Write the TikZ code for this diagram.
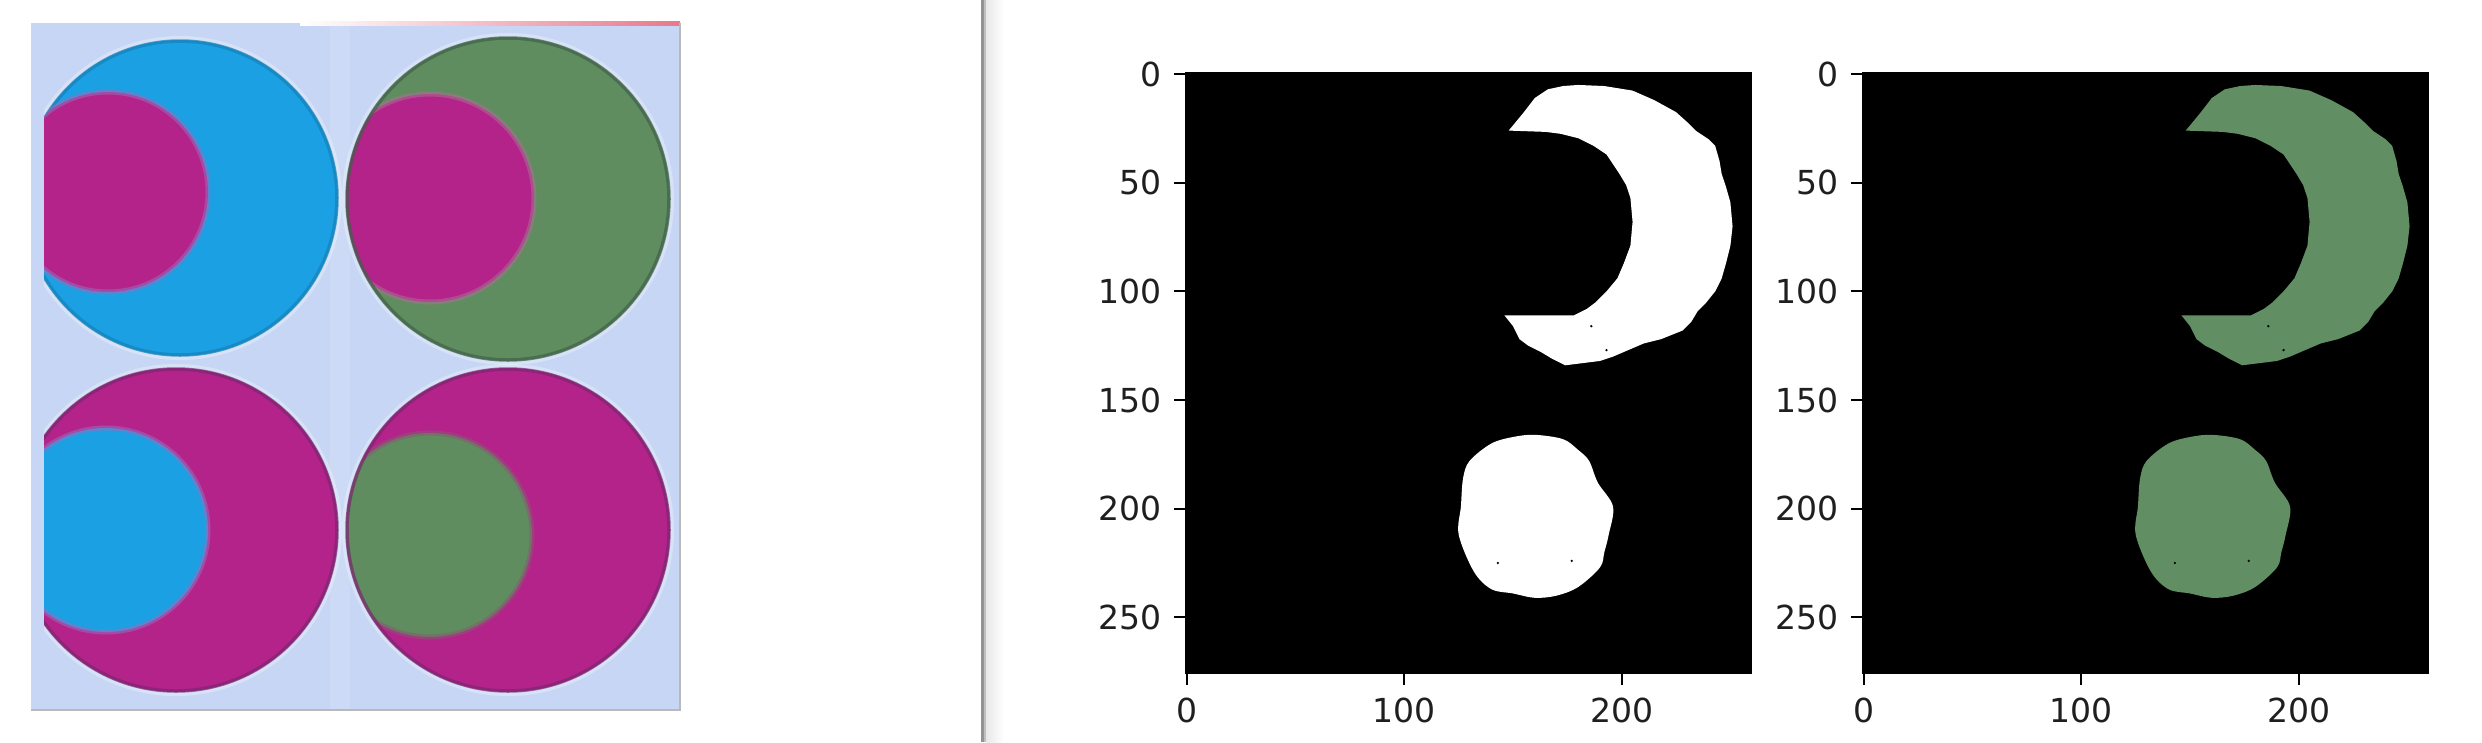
\documentclass[tikz,border=0pt]{standalone}
\usepackage{fontspec}
\setmainfont{DejaVu Sans}
\definecolor{photobg}{RGB}{198,214,244}
\definecolor{cblue}{RGB}{27,160,228}
\definecolor{cmag}{RGB}{180,35,137}
\definecolor{cgreen}{RGB}{96,141,96}
\definecolor{darkgreen}{RGB}{62,96,72}
\definecolor{darkmag}{RGB}{122,38,112}
\definecolor{ringmix}{RGB}{150,110,190}
\definecolor{plotgreen}{RGB}{98,142,100}
\definecolor{pinkline}{RGB}{230,120,140}
\tikzset{
  halo/.style={draw=white,opacity=0.3,line width=0.08cm},
  rim/.style={draw=#1,opacity=0.7,line width=0.035cm},
  softring/.style={draw=#1,opacity=0.55,line width=0.05cm},
  tickst/.style={line width=0.6pt,black},
  ticklab/.style={inner sep=0pt,font=\fontsize{9.4pt}{11pt}\selectfont,text=black!88},
}
\begin{document}
\begin{tikzpicture}[x=0.01cm,y=-0.01cm]
\useasboundingbox (0,0) rectangle (2482,742);
\fill[white] (0,0) rectangle (2482,742);

% ---------------- photo ----------------
\begin{scope}
  \clip (31,23) rectangle (680,710);
  \fill[photobg] (31,23) rectangle (680,710);
  \fill[white,opacity=0.12] (330,23) rectangle (350,710);
  \begin{scope}
    \clip (44,23) rectangle (680,710);
    % top-left: blue with magenta inside
    \draw[halo] (180,198) circle[radius=158];
    \fill[cblue] (180,198) circle[radius=158];
    \draw[rim=cblue!80!black] (180,198) circle[radius=157];
    \begin{scope}
      \clip (180,198) circle[radius=158];
      \fill[cmag] (108,192) circle[radius=100];
      \draw[softring=ringmix] (108,192) circle[radius=100];
    \end{scope}
    % top-right: green with magenta inside
    \draw[halo] (508,199) circle[radius=162];
    \fill[cgreen] (508,199) circle[radius=162];
    \begin{scope}
      \clip (508,199) circle[radius=162];
      \fill[cmag] (430,198) circle[radius=104];
      \draw[softring=cmag!60!cgreen!80!white] (430,198) circle[radius=104];
    \end{scope}
    \draw[rim=darkgreen] (508,199) circle[radius=161];
    % bottom-left: magenta with blue inside
    \draw[halo] (176,530) circle[radius=162];
    \fill[cmag] (176,530) circle[radius=162];
    \begin{scope}
      \clip (176,530) circle[radius=162];
      \fill[cblue] (106,530) circle[radius=102];
      \draw[softring=ringmix] (106,530) circle[radius=102];
    \end{scope}
    \draw[rim=darkmag] (176,530) circle[radius=161];
    % bottom-right: magenta with green inside
    \draw[halo] (508,530) circle[radius=162];
    \fill[cmag] (508,530) circle[radius=162];
    \begin{scope}
      \clip (508,530) circle[radius=162];
      \fill[cgreen] (430,535) circle[radius=102];
      \draw[softring=cmag!50!cgreen] (430,535) circle[radius=102];
    \end{scope}
    \draw[rim=darkmag] (508,530) circle[radius=161];
  \end{scope}
\end{scope}
\shade[left color=white,right color=pinkline] (300,21) rectangle (680,25);
\draw[gray!55,line width=0.02cm] (680,23) -- (680,710) -- (31,710);

% ---------------- divider ----------------
\fill[gray!85] (981,0) rectangle (984,742);
\fill[gray!50] (984,0) rectangle (986,742);
\shade[left color=gray!18,right color=white] (986,0) rectangle (1004,742);

% ---------------- two image plots ----------------
\foreach \ox/\fc [count=\k] in {1186/white,1863/plotgreen} {
  \fill[black] (\ox,73) rectangle ++(565,600);
  \begin{scope}[shift={(\ox+1.087,74.087)},scale=2.1731]
    \fill[\fc] (148,26) -- (155,17.5) -- (160,11) -- (166,7) -- (173,5.5) -- (180,5)
      -- (192,5.5) -- (205,7.6) -- (215,12) -- (225,17.5) -- (230,22) -- (234,26)
      -- (240,30) -- (243,33) -- (245,40) -- (246,46) -- (248,52) -- (250,59)
      -- (251,70) -- (250,79) -- (248,87) -- (246,94) -- (243,100) -- (239,105)
      -- (235,109) -- (232,114) -- (228,118) -- (218,122) -- (210,124) -- (203,127)
      -- (196,130) -- (190,132) -- (182,133) -- (174,134) -- (168,131) -- (163,128)
      -- (157,125) -- (153,122) -- (150,116) -- (146,111)
      -- (160,111) -- (178,111) -- (184,108) -- (188,105) -- (193,100) -- (198,94)
      -- (201,87) -- (204,79) -- (205,68) -- (204,57) -- (202,51) -- (199,46)
      -- (193,37) -- (187,33) -- (180,29.5) -- (172,27.5) -- (165,26.6) -- cycle;
    \fill[\fc] plot[smooth cycle,tension=0.55] coordinates {
      (160,166) (173,168) (180,173) (185,178) (189,188) (196,199) (194,212)
      (192,220) (190,227) (180,236) (170,240) (160,241) (150,239) (140,237)
      (132,229) (125,212) (126,199) (127,186) (130,178) (140,170) (150,167)};
    \fill[black] (186,116) circle[radius=0.6] (193,127) circle[radius=0.6]
      (143,225) circle[radius=0.6] (177,224) circle[radius=0.6];
  \end{scope}
  \draw[black,line width=0.45pt] (\ox,73) rectangle ++(565,600);
  \foreach \t in {0,50,100,150,200,250} {
    \pgfmathsetmacro\yy{73+(\t+0.5)*2.1731}
    \coordinate (yt-\k-\t) at (\ox,\yy);
    \draw[tickst] (yt-\k-\t) -- ++(-12,0);
    \node[ticklab,anchor=east] (yl-\k-\t) at (\ox-24,\yy) {\t};
  }
  \foreach \t in {0,100,200} {
    \pgfmathsetmacro\xx{\ox+(\t+0.5)*2.1731}
    \coordinate (xt-\k-\t) at (\xx,673);
    \draw[tickst] (xt-\k-\t) -- ++(0,12);
    \node[ticklab,anchor=north] (xl-\k-\t) at (\xx,697) {\t};
  }
}
\end{tikzpicture}
\end{document}
